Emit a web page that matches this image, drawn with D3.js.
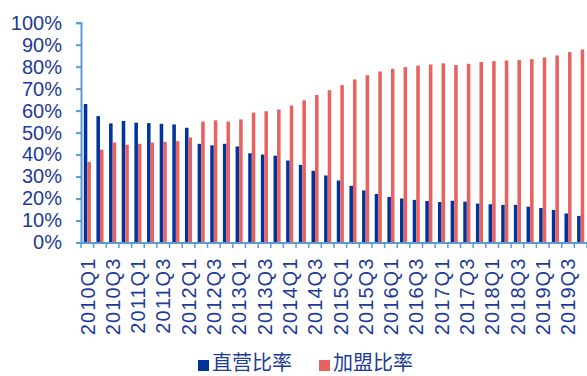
<!DOCTYPE html>
<html><head><meta charset="utf-8">
<script src="https://cdn.jsdelivr.net/npm/d3@7"></script>
<style>
html,body{margin:0;padding:0;background:#fff;}
svg{display:block;}
</style></head>
<body>
<svg id="chart" width="587" height="376"></svg>
<script>
const quarters = [];
const years = [2010,2011,2012,2013,2014,2015,2016,2017,2018,2019];
years.forEach(y => [1,2,3,4].forEach(q => quarters.push(y + "Q" + q)));

const directRatio = [63.0,57.5,54.2,55.3, 54.5,54.3,54.0,53.7, 52.2,44.9,44.2,44.9,
  43.7,40.6,40.0,39.5, 37.3,35.3,32.6,30.5, 28.2,25.8,23.7,22.1,
  20.7,20.0,19.4,18.9, 18.4,19.0,18.6,17.7, 17.4,17.1,17.1,16.3,
  15.7,14.8,13.2,12.1];
const franchiseRatio = [36.7,42.2,45.5,44.5, 44.9,45.5,45.8,46.1, 47.8,55.0,55.6,55.0,
  56.0,59.1,59.7,60.5, 62.3,64.7,67.1,69.3, 71.6,74.2,76.1,77.8,
  79.0,79.8,80.5,81.0, 81.5,80.7,81.3,82.1, 82.5,82.8,83.0,83.4,
  84.2,85.1,86.6,87.8];
const seriesNames = ["直营比率","加盟比率"];
const yTicks = [0,10,20,30,40,50,60,70,80,90,100];

const colors = ["#00349A","#E96262"];
const textColor = "#1E3B95";
const axisColor = "#5B9BD5";

const svg = d3.select("#chart");
const plotLeft = 81, plotRight = 587, plotTop = 22.7, plotBottom = 242.5;

const x = d3.scaleBand().domain(quarters).range([plotLeft, plotRight]).paddingInner(0).paddingOuter(0);
const x1 = d3.scaleBand().domain([0,1]).range([0, x.bandwidth()]).paddingInner(0).paddingOuter(0.78);
const y = d3.scaleLinear().domain([0,100]).range([plotBottom, plotTop]);

const data = quarters.map((q,i) => ({q, vals:[directRatio[i], franchiseRatio[i]]}));

const g = svg.append("g");
data.forEach(d => {
  d.vals.forEach((v,k) => {
    g.append("rect")
      .attr("x", x(d.q) + x1(k))
      .attr("y", y(v))
      .attr("width", x1.bandwidth())
      .attr("height", y(0) - y(v))
      .attr("fill", colors[k]);
  });
});

// Y axis
const yAxis = d3.axisLeft(y).tickValues(yTicks).tickFormat(d => d + "%").tickSize(5).tickPadding(14);
const ya = svg.append("g").attr("transform", `translate(${plotLeft},0)`).call(yAxis);
ya.select(".domain").attr("stroke", axisColor).attr("stroke-width", 2);
ya.selectAll(".tick line").attr("stroke", axisColor).attr("stroke-width", 2);
ya.selectAll("text").attr("fill", textColor)
  .style("font-family", "'Liberation Sans', Arial, sans-serif").style("font-size", "20px");

// X axis
const xAxis = d3.axisBottom(x).tickSize(0).tickFormat(d => (d.endsWith("Q1")||d.endsWith("Q3")) ? d : "");
const xa = svg.append("g").attr("transform", `translate(0,${plotBottom})`).call(xAxis);
xa.select(".domain").attr("stroke", axisColor).attr("stroke-width", 2);
xa.selectAll(".tick line").remove();
const bounds = quarters.map(q => x(q)).concat([plotRight]);
xa.selectAll(".bt").data(bounds).enter().append("line")
  .attr("x1", d => d).attr("x2", d => d).attr("y1", 0).attr("y2", 5.5)
  .attr("stroke", axisColor).attr("stroke-width", 1.5);
xa.selectAll(".tick text")
  .attr("fill", textColor)
  .style("font-family", "'Liberation Sans', Arial, sans-serif").style("font-size", "20px")
  .style("letter-spacing", "1.1px")
  .attr("text-anchor", "end")
  .attr("transform", "rotate(-90)")
  .attr("x", -15).attr("y", 0).attr("dy", "0.36em");

// Legend
const legend = svg.append("g");
const legendItems = [{name: seriesNames[0], c: colors[0], x: 198}, {name: seriesNames[1], c: colors[1], x: 319}];
legendItems.forEach(it => {
  legend.append("rect").attr("x", it.x).attr("y", 360).attr("width", 11).attr("height", 11).attr("fill", it.c);
  legend.append("text").attr("x", it.x + 14).attr("y", 370)
    .attr("fill", textColor)
    .style("font-family", "'Noto Sans CJK SC', sans-serif").style("font-size", "20px")
    .text(it.name);
});
</script>
</body></html>
